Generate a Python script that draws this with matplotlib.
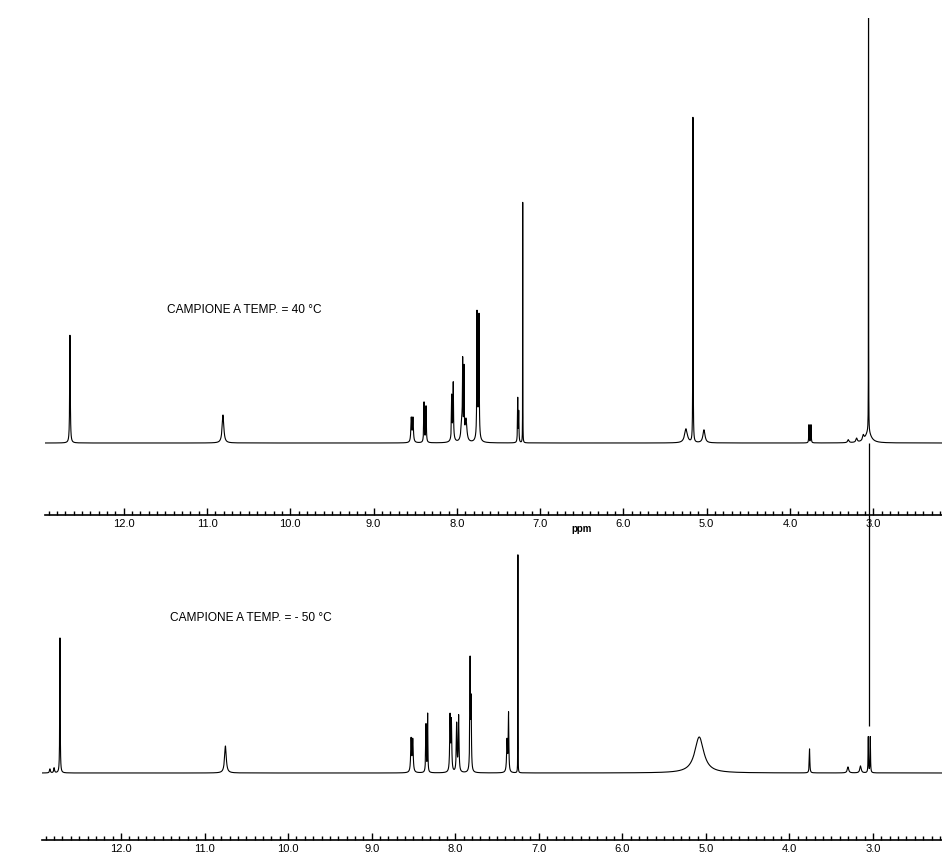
import numpy as np
import matplotlib
matplotlib.use("Agg")
import matplotlib.pyplot as plt
from matplotlib.ticker import MultipleLocator, FormatStrFormatter

plt.rcParams['font.family'] = ['Liberation Sans', 'DejaVu Sans']

# picchi dello spettro a 40 °C: posizione (ppm), altezza, semilarghezza (ppm)
top_ppm = [12.645, 10.808, 8.547, 8.527, 8.394, 8.370, 8.062, 8.043, 8.050,
           7.930, 7.914, 7.940, 7.890, 7.758, 7.734, 7.746, 7.269, 7.257, 7.209,
           5.249, 5.165, 5.033, 3.772, 3.748, 3.300, 3.200, 3.120, 3.060, 3.057]
top_h = [108, 28, 24, 24, 40, 36, 40, 50, 12,
         70, 68, 20, 22, 118, 115, 22, 44, 30, 250,
         14, 328, 13, 18, 18, 3, 4, 5, 11, 520]
top_w = [0.004, 0.012, 0.006, 0.006, 0.004, 0.004, 0.003, 0.003, 0.015,
         0.003, 0.003, 0.012, 0.012, 0.003, 0.003, 0.014, 0.003, 0.003, 0.001,
         0.02, 0.002, 0.015, 0.003, 0.003, 0.01, 0.01, 0.01, 0.04, 0.001]
# coda verso il basso della riga a 3.06 ppm
top_tail_ppm = [3.057]
top_tail_low = [-283]

# picchi dello spettro a -50 °C
bot_ppm = [12.85, 12.80, 12.73, 10.75, 8.528, 8.508, 8.350, 8.330, 8.062, 8.046,
           7.983, 7.959, 7.822, 7.810, 7.380, 7.362, 7.250, 5.080,
           3.760, 3.300, 3.150, 3.057, 3.033]
bot_h = [4, 5, 135, 27, 33, 32, 48, 58, 55, 50,
         48, 56, 110, 68, 32, 58, 218, 36,
         24, 6, 7, 36, 36]
bot_w = [0.006, 0.006, 0.003, 0.012, 0.006, 0.006, 0.004, 0.003, 0.005, 0.005,
         0.005, 0.005, 0.004, 0.004, 0.006, 0.004, 0.001, 0.065,
         0.004, 0.01, 0.01, 0.003, 0.003]

ticks_major = [12.0, 11.0, 10.0, 9.0, 8.0, 7.0, 6.0, 5.0, 4.0, 3.0]

x = np.arange(2.17, 12.95, 0.0004)


def spettro(ppm, h, w):
    y = np.zeros_like(x)
    for p0, a, g in zip(ppm, h, w):
        y += a * g**2 / ((x - p0)**2 + g**2)
    return y


fig = plt.figure(figsize=(9.42, 8.6), dpi=100)
ax1 = fig.add_axes([45/942, 1-515/860, 897/942, 497/860])
ax2 = fig.add_axes([42/942, 1-840/860, 900/942, 295/860])

ax1.plot(x, spettro(top_ppm, top_h, top_w), color='black', lw=0.8)
ax1.vlines(top_tail_ppm, top_tail_low, 0, color='black', lw=0.9, clip_on=False)
ax1.set_ylim(-72, 425)
ax1.text(11.48, 133, 'CAMPIONE A TEMP. = 40 °C', fontsize=8.6, va='center')
ax1.text(6.5, -86, 'ppm', fontsize=7, fontweight='bold', ha='center', va='center')

ax2.plot(x, spettro(bot_ppm, bot_h, bot_w), color='black', lw=0.8)
ax2.set_ylim(-67, 228)
ax2.text(11.41, 155, 'CAMPIONE A TEMP. = - 50 °C', fontsize=8.6, va='center')

for ax in (ax1, ax2):
    ax.set_xlim(12.945, 2.175)
    for s in ('top', 'left', 'right'):
        ax.spines[s].set_visible(False)
    ax.spines['bottom'].set_linewidth(1.2)
    ax.set_yticks([])
    ax.set_xticks(ticks_major)
    ax.xaxis.set_major_formatter(FormatStrFormatter('%.1f'))
    ax.xaxis.set_minor_locator(MultipleLocator(0.1))
    ax.tick_params(axis='x', which='major', direction='in', length=5, width=1,
                   labelsize=8, pad=3)
    ax.tick_params(axis='x', which='minor', direction='in', length=3, width=1)
    ax.patch.set_visible(False)

fig.savefig('out.png', dpi=100)
